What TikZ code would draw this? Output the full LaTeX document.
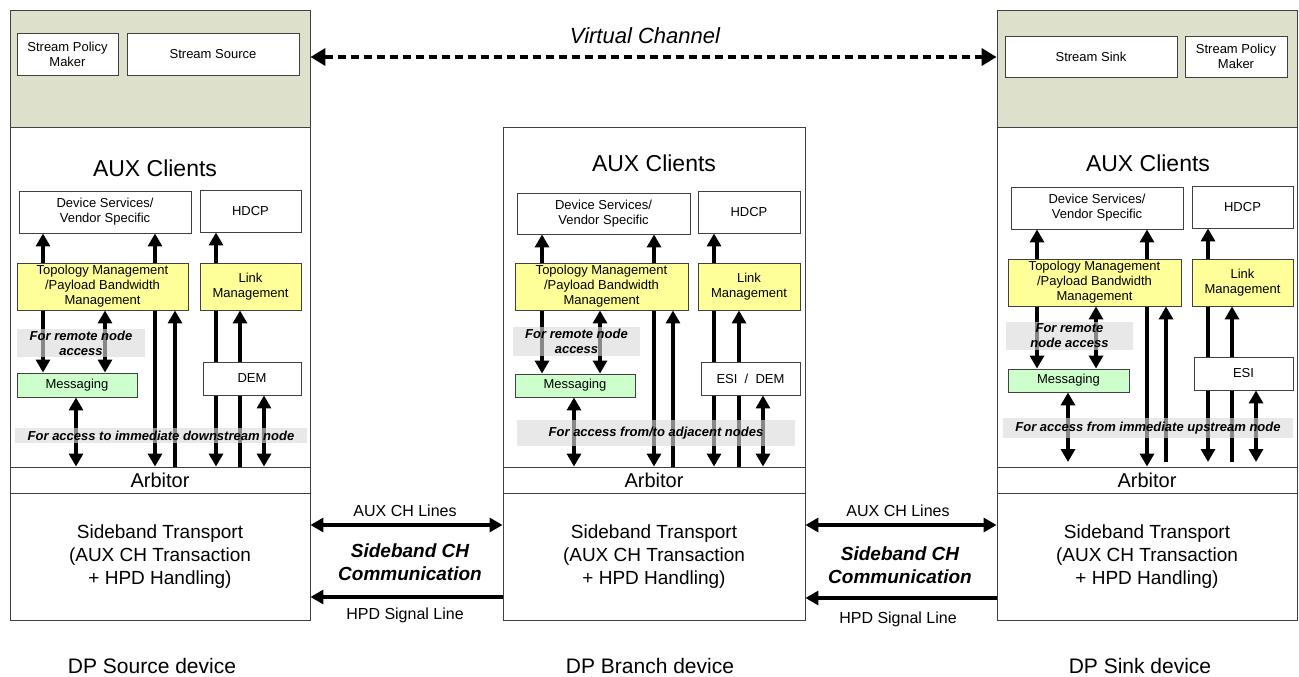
\documentclass[tikz,border=0pt]{standalone}
\usepackage{fontspec}
\setmainfont{Liberation Sans}
\usetikzlibrary{arrows.meta}
\pgfdeclarelayer{bg}
\pgfdeclarelayer{arrlayer}
\pgfsetlayers{bg,arrlayer,main}
\definecolor{topgreen}{HTML}{DDE0CA}
\definecolor{boxyellow}{HTML}{FFFF99}
\definecolor{boxgreen}{HTML}{CCFFCC}
\definecolor{bandgray}{HTML}{DADADA}
\definecolor{framegray}{HTML}{404040}
\newcommand\mkbox[7]{\node[#1,minimum width={(#5-#3)*1pt},minimum height={(#6-#4)*1pt}] (#2) at ({(#3+#5)/2},{(#4+#6)/2}) {#7};}
\begin{document}
\begin{tikzpicture}[x=1pt,y=-1pt,
  frame/.style={draw=framegray,line width=0.9pt,inner sep=0pt,align=center},
  cont/.style={frame,fill=white,font=\fontsize{19}{23}\selectfont},
  topreg/.style={frame,fill=topgreen},
  arbbox/.style={frame,fill=white,font=\fontsize{20}{24}\selectfont},
  box/.style={frame,fill=white,font=\fontsize{13}{15}\selectfont},
  ybox/.style={box,fill=boxyellow},
  gbox/.style={box,fill=boxgreen},
  band/.style={draw=none,fill=bandgray,fill opacity=0.62,text opacity=1,inner sep=0pt,align=center,font=\fontsize{13}{15}\selectfont\bfseries\itshape},
  titlelbl/.style={font=\fontsize{23}{27}\selectfont},
  linelbl/.style={font=\fontsize{16}{19}\selectfont},
  commlbl/.style={align=center,font=\fontsize{19}{23}\selectfont\bfseries\itshape},
  devlbl/.style={font=\fontsize{21}{25}\selectfont},
  tip/.tip={Triangle[width=14pt,length=13pt]},
  arr/.style={line width=3.2pt,-tip},
  darr/.style={line width=3.2pt,tip-tip},
  vcarr/.style={line width=4pt,dash pattern=on 8pt off 5pt,{Triangle[width=17pt,length=15pt]}-{Triangle[width=17pt,length=15pt]}}
]
\useasboundingbox (0,0) rectangle (1299,677);

% ---------- containers ----------
\begin{pgfonlayer}{bg}
\mkbox{topreg}{top1}{10}{10}{310}{127}{}
\mkbox{cont}{aux1}{10}{127}{310}{467}{}
\mkbox{arbbox}{arb1}{10}{467}{310}{493}{Arbitor}
\mkbox{cont}{sb1}{10}{493}{310}{620}{Sideband Transport\\(AUX CH Transaction\\+ HPD Handling)}

\mkbox{cont}{aux2}{503}{127}{805}{467}{}
\mkbox{arbbox}{arb2}{503}{467}{805}{493}{Arbitor}
\mkbox{cont}{sb2}{503}{493}{805}{620}{Sideband Transport\\(AUX CH Transaction\\+ HPD Handling)}

\mkbox{topreg}{top3}{997}{10}{1297}{127}{}
\mkbox{cont}{aux3}{997}{127}{1297}{467}{}
\mkbox{arbbox}{arb3}{997}{467}{1297}{493}{Arbitor}
\mkbox{cont}{sb3}{997}{493}{1297}{620}{Sideband Transport\\(AUX CH Transaction\\+ HPD Handling)}
\end{pgfonlayer}

% ---------- inner boxes: source ----------
\mkbox{box}{spm1}{17}{33}{118}{75}{Stream Policy\\Maker}
\mkbox{box}{ss1}{127}{33}{299}{75}{Stream Source}
\node[titlelbl] (ac1) at (155,168) {AUX Clients};
\mkbox{box}{ds1}{19}{191}{191}{233}{Device Services/\\Vendor Specific}
\mkbox{box}{hd1}{200}{190}{301}{232}{HDCP}
\mkbox{ybox}{tm1}{17}{263}{188}{310}{Topology Management\\/Payload Bandwidth\\Management}
\mkbox{ybox}{lm1}{200}{263}{301}{310}{Link\\Management}
\mkbox{gbox}{ms1}{17}{373}{137}{397}{Messaging}
\mkbox{box}{dem1}{203}{362}{301}{395}{DEM}

% ---------- inner boxes: branch ----------
\node[titlelbl] (ac2) at (654,163) {AUX Clients};
\mkbox{box}{ds2}{517}{193}{690}{234}{Device Services/\\Vendor Specific}
\mkbox{box}{hd2}{698}{191}{800}{233}{HDCP}
\mkbox{ybox}{tm2}{515}{263}{688}{310}{Topology Management\\/Payload Bandwidth\\Management}
\mkbox{ybox}{lm2}{698}{263}{800}{310}{Link\\Management}
\mkbox{gbox}{ms2}{515}{374}{635}{397}{Messaging}
\mkbox{box}{dem2}{701}{362}{800}{395}{ESI \ / \ DEM}

% ---------- inner boxes: sink ----------
\mkbox{box}{ssk3}{1005}{36}{1177}{77}{Stream Sink}
\mkbox{box}{spm3}{1185}{36}{1287}{77}{Stream Policy\\Maker}
\node[titlelbl] (ac3) at (1148,163) {AUX Clients};
\mkbox{box}{ds3}{1011}{187}{1183}{229}{Device Services/\\Vendor Specific}
\mkbox{box}{hd3}{1192}{186}{1293}{228}{HDCP}
\mkbox{ybox}{tm3}{1008}{259}{1181}{306}{Topology Management\\/Payload Bandwidth\\Management}
\mkbox{ybox}{lm3}{1192}{259}{1293}{306}{Link\\Management}
\mkbox{gbox}{ms3}{1008}{369}{1129}{392}{Messaging}
\mkbox{box}{esi3}{1194}{357}{1293}{390}{ESI}

% ---------- arrows ----------
\begin{pgfonlayer}{arrlayer}
% source
\draw[arr] (tm1.north -| 43,0) -- (ds1.south -| 43,0);
\draw[arr] (tm1.south -| 43,0) -- (ms1.north -| 43,0);
\draw[darr] (tm1.south -| 105,0) -- (ms1.north -| 105,0);
\draw[arr] (tm1.north -| 155,0) -- (ds1.south -| 155,0);
\draw[arr] (tm1.south -| 155,0) -- (arb1.north -| 155,0);
\draw[arr] (arb1.north -| 175,0) -- (tm1.south -| 175,0);
\draw[arr] (lm1.north -| 216,0) -- (hd1.south -| 216,0);
\draw[arr] (lm1.south -| 216,0) -- (arb1.north -| 216,0);
\draw[arr] (arb1.north -| 240,0) -- (lm1.south -| 240,0);
\draw[darr] (dem1.south -| 264,0) -- (arb1.north -| 264,0);
\draw[darr] (ms1.south -| 76,0) -- (arb1.north -| 76,0);
% branch
\draw[arr] (tm2.north -| 542,0) -- (ds2.south -| 542,0);
\draw[arr] (tm2.south -| 542,0) -- (ms2.north -| 542,0);
\draw[darr] (tm2.south -| 600,0) -- (ms2.north -| 600,0);
\draw[arr] (tm2.north -| 654,0) -- (ds2.south -| 654,0);
\draw[arr] (tm2.south -| 654,0) -- (arb2.north -| 654,0);
\draw[arr] (arb2.north -| 673,0) -- (tm2.south -| 673,0);
\draw[arr] (lm2.north -| 714,0) -- (hd2.south -| 714,0);
\draw[arr] (lm2.south -| 714,0) -- (arb2.north -| 714,0);
\draw[arr] (arb2.north -| 739,0) -- (lm2.south -| 739,0);
\draw[darr] (dem2.south -| 763,0) -- (arb2.north -| 763,0);
\draw[darr] (ms2.south -| 574,0) -- (arb2.north -| 574,0);
% sink
\coordinate (e3a) at (1068,462);
\coordinate (e3b) at (1166,462);
\coordinate (e3c) at (1208,462);
\coordinate (e3d) at (1232,462);
\coordinate (e3e) at (1256,462);
\draw[arr] (tm3.north -| 1037,0) -- (ds3.south -| 1037,0);
\draw[arr] (tm3.south -| 1037,0) -- (ms3.north -| 1037,0);
\draw[darr] (tm3.south -| 1096,0) -- (ms3.north -| 1096,0);
\draw[arr] (tm3.north -| 1147,0) -- (ds3.south -| 1147,0);
\draw[arr] (tm3.south -| 1147,0) -- (arb3.north -| 1147,0);
\draw[arr] (e3b) -- (tm3.south -| e3b);
\draw[arr] (lm3.north -| 1208,0) -- (hd3.south -| 1208,0);
\draw[arr] (lm3.south -| e3c) -- (e3c);
\draw[arr] (e3d) -- (lm3.south -| e3d);
\draw[darr] (esi3.south -| e3e) -- (e3e);
\draw[darr] (ms3.south -| e3a) -- (e3a);
\end{pgfonlayer}

% ---------- gray label bands ----------
\mkbox{band}{rn1}{17}{329}{145}{357}{For remote node\\access}
\mkbox{band}{ad1}{15}{428}{307}{443}{For access to immediate downstream node}
\mkbox{band}{rn2}{513}{327}{640}{356}{For remote node\\access}
\mkbox{band}{ad2}{517}{420}{795}{446}{For access from/to adjacent nodes}
\mkbox{band}{rn3}{1006}{322}{1133}{350}{For remote\\node access}
\mkbox{band}{ad3}{1003}{418}{1293}{438}{For access from immediate upstream node}

% ---------- virtual channel ----------
\draw[vcarr] (top1.east |- 0,57) -- (top3.west |- 0,57);
\node[font=\fontsize{22}{26}\selectfont\itshape] (vc) at (645,36) {Virtual Channel};

% ---------- sideband links ----------
\draw[darr] (sb1.east |- 0,525) -- (sb2.west |- 0,525);
\draw[arr] (sb2.west |- 0,597) -- (sb1.east |- 0,597);
\draw[darr] (sb2.east |- 0,525) -- (sb3.west |- 0,525);
\draw[arr] (sb3.west |- 0,598) -- (sb2.east |- 0,598);
\node[linelbl] (aux12) at (405,511) {AUX CH Lines};
\node[commlbl] (sc12) at (410,562) {Sideband CH\\Communication};
\node[linelbl] (hpd12) at (405,615) {HPD Signal Line};
\node[linelbl] (aux23) at (898,511) {AUX CH Lines};
\node[commlbl] (sc23) at (900,565) {Sideband CH\\Communication};
\node[linelbl] (hpd23) at (898,619) {HPD Signal Line};

% ---------- device names ----------
\node[devlbl] (dn1) at (152,666) {DP Source device};
\node[devlbl] (dn2) at (650,666) {DP Branch device};
\node[devlbl] (dn3) at (1140,666) {DP Sink device};
\end{tikzpicture}
\end{document}
